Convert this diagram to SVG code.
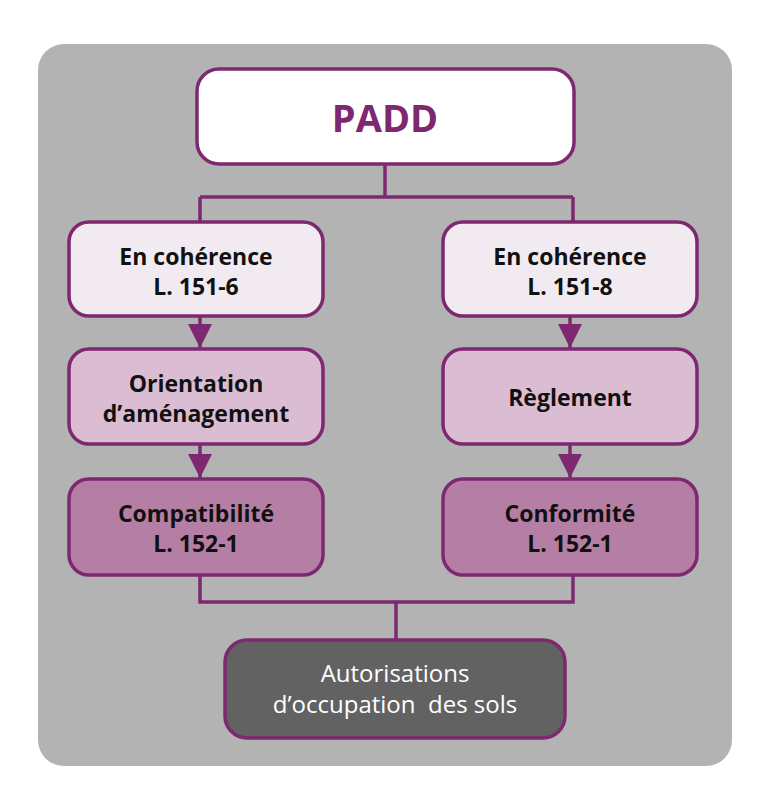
<svg xmlns="http://www.w3.org/2000/svg" width="768" height="810" viewBox="0 0 768 810">
<style>
.box{stroke:#7d2870;stroke-width:3.5}
.b1{fill:#f2eaf1}.b2{fill:#dbbdd3}.b3{fill:#b57fa5}
.t{font-family:"Open Sans","Liberation Sans",sans-serif;font-weight:bold;font-size:23px;fill:#111;text-anchor:middle}
.w{font-family:"Open Sans","Liberation Sans",sans-serif;font-size:24px;fill:#fff;text-anchor:middle}
.c{fill:none;stroke:#7d2870;stroke-width:3.5}
</style>
<defs>
<marker id="ah" viewBox="0 0 10 10" refX="10" refY="5" markerWidth="7" markerHeight="7" markerUnits="strokeWidth" orient="auto">
<path d="M0,0 L10,5 L0,10 z" fill="#7d2870"/>
</marker>
</defs>
<rect x="38" y="44" width="694" height="722" rx="26" fill="#b3b3b3"/>
<g id="connectors">
<path class="c" d="M385,164 V197 M200,197 H573 M200,197 V222 M573,197 V222"/>
<path class="c" d="M200,316 V348" marker-end="url(#ah)"/>
<path class="c" d="M200,444 V478" marker-end="url(#ah)"/>
<path class="c" d="M570,316 V348" marker-end="url(#ah)"/>
<path class="c" d="M570,444 V478" marker-end="url(#ah)"/>
<path class="c" d="M200,575 V602 H573 V575 M396,602 V640"/>
</g>
<g id="padd">
<rect x="197" y="69" width="377" height="95" rx="22" fill="#fff" class="box"/>
<text x="385" y="132" style="font-family:'Open Sans','Liberation Sans',sans-serif;font-weight:bold;font-size:38px;fill:#7d2870;text-anchor:middle">PADD</text>
</g>
<g id="coh1">
<rect x="69" y="222" width="254" height="94" rx="20" class="box b1"/>
<text x="196" y="265" class="t">En cohérence</text>
<text x="196" y="295" class="t">L. 151-6</text>
</g>
<g id="coh2">
<rect x="443" y="222" width="254" height="94" rx="20" class="box b1"/>
<text x="570" y="265" class="t">En cohérence</text>
<text x="570" y="295" class="t">L. 151-8</text>
</g>
<g id="orient">
<rect x="69" y="349" width="254" height="95" rx="20" class="box b2"/>
<text x="196" y="392" class="t">Orientation</text>
<text x="196" y="422" class="t">d’aménagement</text>
</g>
<g id="reglement">
<rect x="443" y="349" width="254" height="95" rx="20" class="box b2"/>
<text x="570" y="406" class="t">Règlement</text>
</g>
<g id="compat">
<rect x="69" y="479" width="254" height="96" rx="20" class="box b3"/>
<text x="196" y="522" class="t">Compatibilité</text>
<text x="196" y="552" class="t">L. 152-1</text>
</g>
<g id="conform">
<rect x="443" y="479" width="254" height="96" rx="20" class="box b3"/>
<text x="570" y="522" class="t">Conformité</text>
<text x="570" y="552" class="t">L. 152-1</text>
</g>
<g id="autorisations">
<rect x="225" y="640" width="340" height="98" rx="22" fill="#626262" class="box"/>
<text x="395" y="682" class="w">Autorisations</text>
<text x="395" y="713" class="w" xml:space="preserve">d’occupation  des sols</text>
</g>
</svg>
